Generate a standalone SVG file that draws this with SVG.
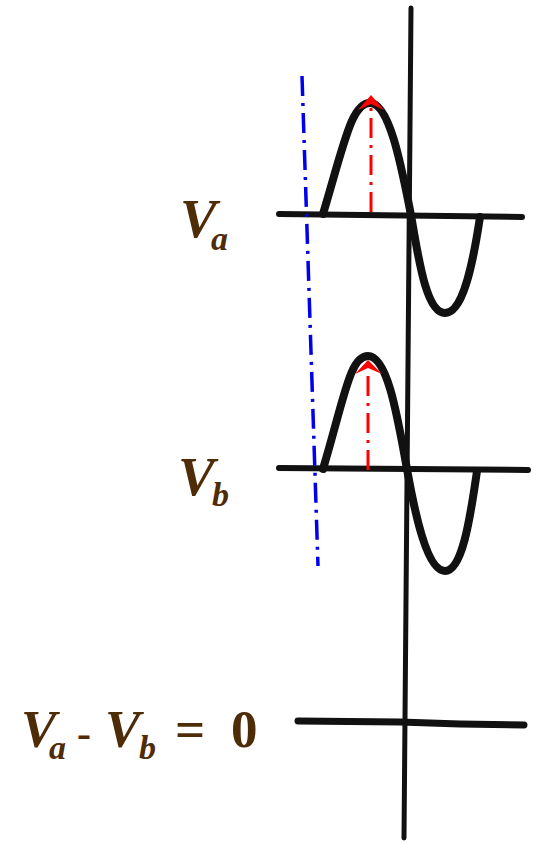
<svg xmlns="http://www.w3.org/2000/svg" width="535" height="843" viewBox="0 0 535 843">
<style>
.ink{fill:none;stroke:#111;stroke-linecap:round;stroke-linejoin:round}
.wave{stroke-width:8}
.base{stroke-width:6}
.blue{fill:none;stroke:#0000ee;stroke-width:3.5;stroke-dasharray:20 7 3 7}
.red{fill:none;stroke:#ff0000;stroke-width:3;stroke-dasharray:20 7 3 7}
.head{fill:#ff0000}
.lbl{font-family:"Liberation Serif",serif;font-weight:bold;fill:#4f2c08}
</style>
<g id="axis">
<line class="ink" x1="411" y1="8" x2="404" y2="838" stroke-width="5"/>
</g>
<g id="va-plot">
<line class="ink base" x1="279" y1="214" x2="522" y2="217"/>
<path class="ink wave" d="M323,214 C345,140 352,103 370,103 C390,103 402,170 411,215 C420,270 428,313 445,313 C462,313 472,270 480,217"/>
</g>
<g id="vb-plot">
<line class="ink base" x1="279" y1="468" x2="528" y2="470"/>
<path class="ink wave" d="M323,469 C345,395 350,356 368,356 C388,356 398,420 407,469 C416,520 428,571 445,571 C462,571 470,520 477,471"/>
</g>
<g id="diff-plot">
<path class="ink" stroke-width="7" d="M298,721 L400,722 L460,724 L524,725"/>
</g>
<g id="connectors">
<line class="blue" x1="302" y1="76" x2="318" y2="566"/>
<line class="red" x1="371" y1="212" x2="371" y2="106"/>
<path class="head" d="M371,95 L384,110 L371,104 L358,110 Z"/>
<line class="red" x1="368" y1="470" x2="368" y2="370"/>
<path class="head" d="M368,360 L382,374 L368,368 L355,374 Z"/>
</g>
<g id="label-va">
<text class="lbl" x="180" y="237" font-size="55" font-style="italic">V<tspan font-size="34" x="211" y="250">a</tspan></text>
</g>
<g id="label-vb">
<text class="lbl" x="178" y="495" font-size="55" font-style="italic">V<tspan font-size="34" x="212" y="506">b</tspan></text>
</g>
<g id="label-diff">
<text class="lbl" y="747" font-size="53"><tspan x="21" font-style="italic">V</tspan><tspan x="49" y="759" font-style="italic" font-size="34">a</tspan><tspan x="77" y="747" font-size="42">-</tspan><tspan x="105" font-style="italic">V</tspan><tspan x="139" y="759" font-style="italic" font-size="34">b</tspan><tspan x="175" y="747">=</tspan><tspan x="231">0</tspan></text>
</g>
</svg>
